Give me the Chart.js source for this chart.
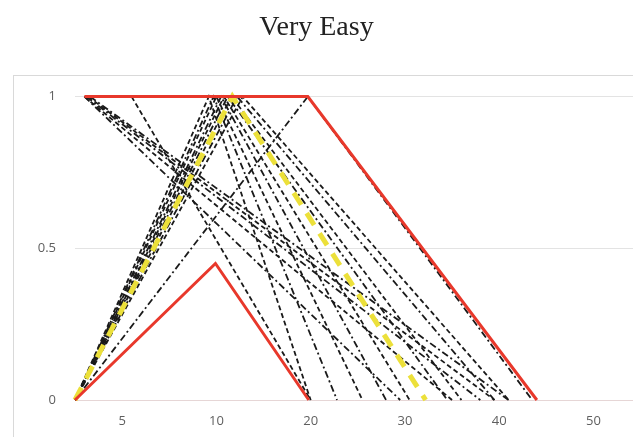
<!DOCTYPE html>
<html>
<head>
<meta charset="utf-8">
<script src="https://cdn.jsdelivr.net/npm/chart.js@4.4.0/dist/chart.umd.min.js"></script>
<style>
  html, body { margin: 0; padding: 0; background: #fff; }
  #wrap { width: 633px; height: 437px; }
</style>
</head>
<body>
<div id="wrap"><canvas id="fuzzyChart"></canvas></div>
<script>
// x runs in category slots: 0 = left edge, each label sits mid-slot
const xLabels = ['5', '10', '20', '30', '40', '50'];
const yTicks = [0, 0.5, 1];

// red bounds
const redUpperX = [0.1, 2.47, 4.9];
const redUpperY = [1, 1, 0];
const redLowerX = [0, 1.49, 2.48];
const redLowerY = [0, 0.45, 0];

// yellow dashed mean
const yellowX = [0, 1.67, 3.72];
const yellowY = [0, 1, 0];

// black dashed: triangles rising from 0
const triPeakX = [1.42, 1.47, 1.5, 1.55, 1.58, 1.62, 1.66, 1.72, 1.78, 2.47];
const triEndX  = [2.5, 2.78, 3.05, 3.3, 3.55, 3.95, 4.1, 4.45, 4.6, 4.85];
// black dashed: falling from the top left
const fallStartX = [0.1, 0.1, 0.12, 0.14, 0.16, 0.6];
const fallEndX   = [3.45, 4.0, 4.3, 4.45, 4.6, 2.5];

const dashA = [5, 3];
const dashB = [7, 3, 2, 3];

function pts(xs, ys) {
  return xs.map((x, i) => ({ x: x, y: ys[i] }));
}

const datasets = [];

datasets.push({
  data: pts(redUpperX, redUpperY),
  borderColor: '#e8382b', borderWidth: 3, order: 0
});
datasets.push({
  data: pts(redLowerX, redLowerY),
  borderColor: '#e8382b', borderWidth: 3, order: 0
});
datasets.push({
  data: pts(yellowX, yellowY),
  borderColor: '#ece03a', borderWidth: 5, borderDash: [14, 10], order: 1
});

triPeakX.forEach((p, i) => {
  datasets.push({
    data: pts([0, p, triEndX[i]], [0, 1, 0]),
    borderColor: '#1a1a1a', borderWidth: 1.8,
    borderDash: i % 2 ? dashB : dashA, order: 2
  });
});
fallStartX.forEach((s, i) => {
  datasets.push({
    data: pts([s, fallEndX[i]], [1, 0]),
    borderColor: '#1a1a1a', borderWidth: 1.8,
    borderDash: i % 2 ? dashA : dashB, order: 2
  });
});

datasets.forEach(d => {
  d.pointRadius = 0;
  d.fill = false;
  d.tension = 0;
  d.clip = false;
});

const framePlugin = {
  id: 'frame',
  beforeDraw(chart) {
    const c = chart.ctx;
    c.save();
    c.fillStyle = '#fff';
    c.fillRect(0, 0, chart.width, chart.height);
    c.strokeStyle = '#d9d9d9';
    c.lineWidth = 1;
    c.strokeRect(13.5, 75.5, 700, 500);
    c.restore();
  }
};

new Chart(document.getElementById('fuzzyChart').getContext('2d'), {
  type: 'line',
  data: { datasets: datasets },
  options: {
    responsive: true,
    maintainAspectRatio: false,
    animation: false,
    layout: { padding: { left: 0, right: 0, top: 0, bottom: 0 } },
    plugins: {
      legend: { display: false },
      tooltip: { enabled: false },
      title: {
        display: true,
        text: 'Very Easy',
        color: '#222',
        font: { family: 'Liberation Serif', size: 28, weight: 'normal' },
        padding: { top: 11, bottom: 52 }
      }
    },
    scales: {
      x: {
        type: 'linear',
        min: 0,
        max: 5.92,
        afterBuildTicks: s => { s.ticks = xLabels.map((_, i) => ({ value: i + 0.5 })); },
        afterFit: s => { s.height = 37; },
        ticks: {
          callback: (v, i) => xLabels[i],
          color: '#5f5f5f',
          font: { family: 'Open Sans', size: 13 },
          padding: 9,
          maxRotation: 0
        },
        grid: { drawOnChartArea: false, tickLength: 4, color: 'rgba(0,0,0,0)' },
        border: { color: '#e6d6d6' }
      },
      y: {
        min: 0,
        max: 1,
        afterBuildTicks: s => { s.ticks = yTicks.map(v => ({ value: v })); },
        afterFit: s => { s.width = 75; },
        ticks: {
          callback: v => String(v),
          color: '#5f5f5f',
          font: { family: 'Open Sans', size: 13 },
          padding: 19
        },
        grid: { color: '#e3e3e3', drawTicks: false },
        border: { display: false }
      }
    }
  },
  plugins: [framePlugin]
});
</script>
</body>
</html>
